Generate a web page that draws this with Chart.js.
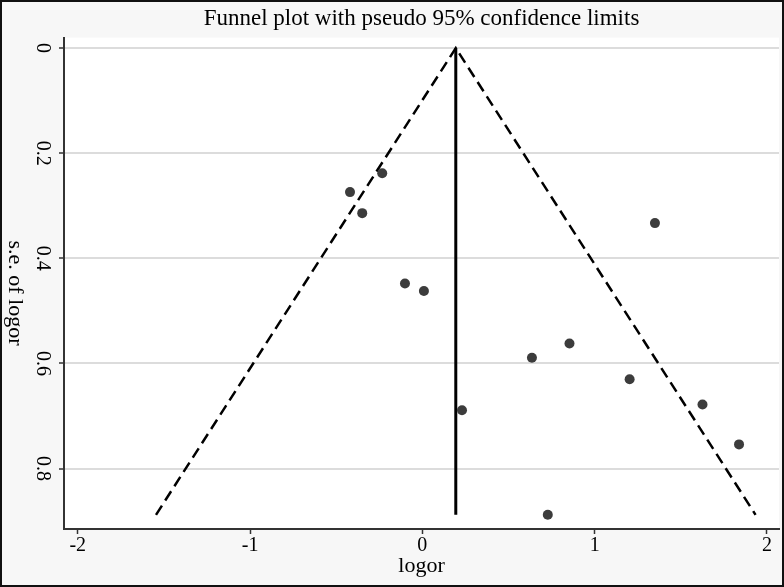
<!DOCTYPE html>
<html lang="en">
<head>
    <meta charset="UTF-8">
    <title>Funnel plot</title>
    <style>
        html, body { margin: 0; padding: 0; background: #ffffff; }
        #wrap { width: 784px; height: 587px; }
    </style>
</head>
<body>

<div id="wrap">
    <canvas id="myChart" width="784" height="587"></canvas>
</div>

<script src="https://cdn.jsdelivr.net/npm/chart.js"></script>

<script>
    // study estimates
    const logor   = [-0.420, -0.233, -0.349, -0.101, 0.009, 1.350, 0.636, 0.854, 1.203, 0.230, 1.626, 1.838, 0.728]
    const seLogor = [ 0.274,  0.238,  0.314,  0.448, 0.462, 0.333, 0.589, 0.562, 0.630, 0.689, 0.678, 0.754, 0.888]

    // pseudo 95% limits (left end, apex, right end) and pooled estimate line
    const funnelX = [-1.546, 0.194, 1.934]
    const funnelY = [0.888, 0, 0.888]
    const pooledX = [0.194, 0.194]
    const pooledY = [0, 0.888]

    const xTicks = [-2, -1, 0, 1, 2]
    const yTicks = [0, 0.2, 0.4, 0.6, 0.8]

    const serif = "'Liberation Serif', 'DejaVu Serif', serif"
    const ctx = document.getElementById('myChart')

    function toPoints(xs, ys) {
        return xs.map((x, i) => ({x: x, y: ys[i]}))
    }

    // grey page, white plot region, thin frame, rotated y title
    const frame = {
        id: 'frame',
        beforeDraw(chart) {
            const c = chart.ctx
            const a = chart.chartArea
            c.save()
            c.fillStyle = '#f7f7f7'
            c.fillRect(0, 0, chart.width, chart.height)
            c.fillStyle = '#ffffff'
            c.fillRect(a.left, a.top, a.right - a.left, a.bottom - a.top)
            c.restore()
        },
        afterDraw(chart) {
            const c = chart.ctx
            c.save()
            c.strokeStyle = '#111111'
            c.lineWidth = 2
            c.strokeRect(1, 1, chart.width - 2, chart.height - 2)
            c.translate(15, 293)
            c.rotate(Math.PI / 2)
            c.font = '22px ' + serif
            c.fillStyle = '#000000'
            c.textAlign = 'center'
            c.textBaseline = 'middle'
            c.fillText('s.e. of logor', 0, 0)
            c.restore()
        }
    }

    new Chart(ctx, {
        type: 'scatter',
        data: {
            datasets: [{
                label: 'studies',
                data: toPoints(logor, seLogor),
                pointRadius: 5,
                pointHoverRadius: 5,
                pointBackgroundColor: '#3c3c3c',
                pointBorderWidth: 0,
                showLine: false
            }, {
                label: 'pooled',
                data: toPoints(pooledX, pooledY),
                showLine: true,
                borderColor: '#000000',
                borderWidth: 3,
                pointRadius: 0
            }, {
                label: 'limits',
                data: toPoints(funnelX, funnelY),
                showLine: true,
                borderColor: '#000000',
                borderWidth: 2.5,
                borderDash: [11, 6],
                pointRadius: 0
            }]
        },
        options: {
            responsive: false,
            animation: false,
            layout: { padding: { left: 0, right: 3, top: 0, bottom: 0 } },
            plugins: {
                legend: { display: false },
                tooltip: { enabled: false },
                title: {
                    display: true,
                    text: 'Funnel plot with pseudo 95% confidence limits',
                    fullSize: false,
                    color: '#000000',
                    font: { family: serif, size: 23, weight: 'normal' },
                    padding: { top: 5, bottom: 5 }
                }
            },
            scales: {
                x: {
                    type: 'linear',
                    min: -2.08,
                    max: 2.07,
                    afterBuildTicks: (scale) => { scale.ticks = xTicks.map(v => ({value: v})) },
                    afterFit: (scale) => { scale.height = 58 },
                    border: { display: true, color: '#333333', width: 2 },
                    grid: { drawOnChartArea: false, drawTicks: true, tickLength: 5, tickColor: '#333333', tickWidth: 1.5 },
                    ticks: { color: '#000000', padding: 0, font: { family: serif, size: 20 } },
                    title: {
                        display: true,
                        text: 'logor',
                        color: '#000000',
                        font: { family: serif, size: 22 },
                        padding: { top: 0, bottom: 8 }
                    }
                },
                y: {
                    type: 'linear',
                    reverse: true,
                    min: -0.02,
                    max: 0.915,
                    afterBuildTicks: (scale) => { scale.ticks = yTicks.map(v => ({value: v})) },
                    afterFit: (scale) => { scale.width = 64 },
                    border: { display: true, color: '#333333', width: 2 },
                    grid: { color: '#dcdcdc', lineWidth: 2, drawTicks: true, tickLength: 5, tickColor: '#333333', tickWidth: 1.5 },
                    ticks: {
                        color: '#000000',
                        minRotation: -90,
                        maxRotation: -90,
                        crossAlign: 'center',
                        padding: 4,
                        font: { family: serif, size: 20 }
                    }
                }
            }
        },
        plugins: [frame]
    });
</script>
</body>
</html>
